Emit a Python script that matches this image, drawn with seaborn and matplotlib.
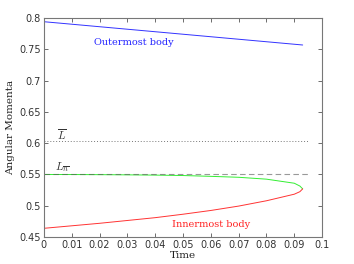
import numpy as np
import pandas as pd
import seaborn as sns
import matplotlib.pyplot as plt

time = [0, 0.01, 0.02, 0.03, 0.04, 0.05, 0.06, 0.07, 0.08, 0.09, 0.092, 0.093]
outer = [0.794, 0.790, 0.786, 0.782, 0.778, 0.774, 0.770, 0.766, 0.762, 0.758, 0.7572, 0.7568]
inner = [0.464, 0.468, 0.472, 0.4765, 0.481, 0.4865, 0.4925, 0.4995, 0.508, 0.5185, 0.5225, 0.527]
middle = [0.550, 0.5499, 0.5497, 0.5494, 0.549, 0.5483, 0.547, 0.5455, 0.5425, 0.536, 0.5315, 0.527]
l_bar = 0.603
l_n = 0.55
ref_end = 0.095

df = pd.DataFrame({"time": time, "outer": outer, "inner": inner, "middle": middle})

sns.set_style("ticks")
plt.rcParams["mathtext.fontset"] = "cm"

fig = plt.figure(figsize=(3.54, 2.64), dpi=100)
ax = fig.add_axes([0.124, 0.102, 0.786, 0.830])

sns.lineplot(data=df, x="time", y="outer", color="#3333ff", lw=0.7, ax=ax)
sns.lineplot(data=df, x="time", y="middle", color="#33ee33", lw=0.7, ax=ax)
sns.lineplot(data=df, x="time", y="inner", color="#ff3333", lw=0.7, ax=ax)
ax.plot([0, ref_end], [l_bar, l_bar], ls=(0, (1, 2)), color="#777777", lw=0.7)
ax.plot([0, ref_end], [l_n, l_n], ls=(0, (5, 3)), color="#555555", lw=0.8, alpha=0.6)

ax.text(0.0324, 0.761, "Outermost body", color="#2222ff", fontsize=7,
        family="DejaVu Serif", ha="center", va="center")
ax.text(0.060, 0.470, "Innermost body", color="#ff2222", fontsize=7,
        family="DejaVu Serif", ha="center", va="center")
ax.text(0.0064, 0.614, r"$\overline{L}$", fontsize=8, color="#333333", ha="center", va="center")
ax.text(0.0066, 0.561, r"$L_{\overline{n}}$", fontsize=8, color="#333333", ha="center", va="center")

ax.set_xlim(0, 0.1)
ax.set_ylim(0.45, 0.8)
xt = [0, 0.01, 0.02, 0.03, 0.04, 0.05, 0.06, 0.07, 0.08, 0.09, 0.1]
yt = [0.45, 0.5, 0.55, 0.6, 0.65, 0.7, 0.75, 0.8]
ax.set_xticks(xt)
ax.set_xticklabels(["0", "0.01", "0.02", "0.03", "0.04", "0.05", "0.06", "0.07", "0.08", "0.09", "0.1"])
ax.set_yticks(yt)
ax.set_yticklabels(["0.45", "0.5", "0.55", "0.6", "0.65", "0.7", "0.75", "0.8"])
ax.tick_params(direction="in", top=True, right=True, length=3, width=0.6,
               labelsize=7, colors="#555555", labelcolor="#333333", pad=2)
for s in ax.spines.values():
    s.set_visible(True)
    s.set_color("#777777")
    s.set_linewidth(0.8)

ax.set_xlabel("Time", family="DejaVu Serif", fontsize=7.5, color="#222222", labelpad=1)
ax.set_ylabel("Angular Momenta", family="DejaVu Serif", fontsize=7.5, color="#222222", labelpad=3)

fig.savefig("out.png", dpi=100)
